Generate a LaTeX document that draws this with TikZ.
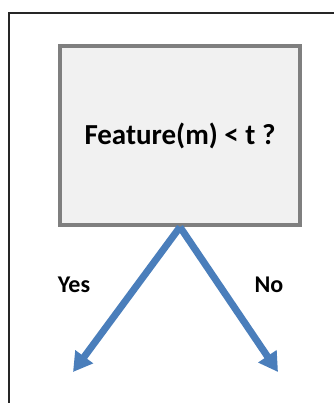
\documentclass[tikz,border=0pt]{standalone}
\usepackage{fontspec}
\setmainfont{Carlito}
\usepackage{tikz}
\usetikzlibrary{arrows.meta, positioning}
\definecolor{splitblue}{HTML}{4A7EBB}
\definecolor{boxgray}{HTML}{7F7F7F}
\definecolor{boxfill}{HTML}{F1F1F1}

\begin{document}
\begin{tikzpicture} [x=1pt, y=1pt,
    test/.style = {draw=boxgray, line width=4pt, fill=boxfill,
                   minimum width=240pt, minimum height=179pt,
                   font=\fontsize{29}{34}\selectfont\bfseries},
    answer/.style = {font=\fontsize{24}{28}\selectfont\bfseries},
    branch/.style = {-{Triangle[width=21pt, length=19pt]}, line width=7pt, splitblue}]

\useasboundingbox (0,0) rectangle (334,-403);
\draw [line width=1.6pt, black!85] (9,-403) -- (9,-13) -- (334,-13);

\node (q0) [test] at (180,-135.5) {Feature(m) < t ?};

\coordinate (yesTip) at (73,-372);
\coordinate (noTip) at (278,-372);

\node (yes) [answer] at (74,-285) {Yes};
\node (no) [answer] at (269,-285) {No};

\path [branch]
    (q0.south) edge (yesTip);
\path [branch]
    (q0.south) edge (noTip);
\end{tikzpicture}
\end{document}
